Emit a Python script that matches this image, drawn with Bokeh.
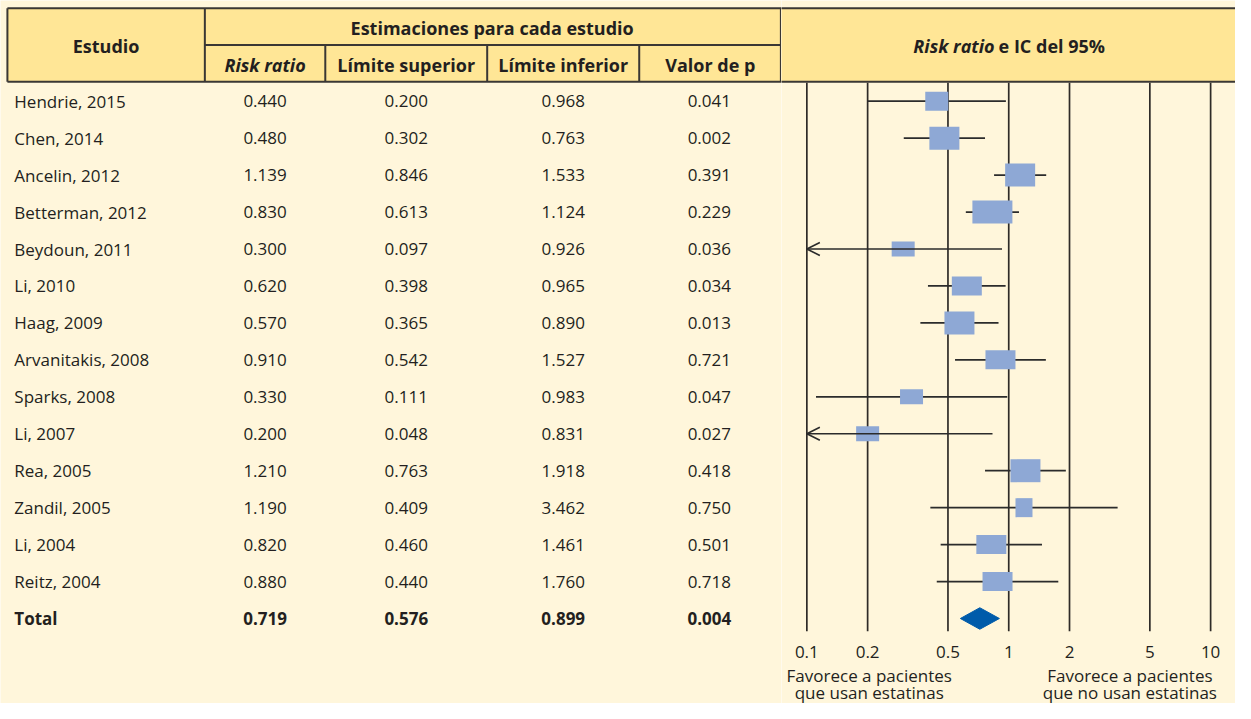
from bokeh.plotting import figure
from bokeh.layouts import row
from bokeh.models import Range1d, Arrow, OpenHead
from bokeh.core.properties import value
from bokeh.embed import file_html
from bokeh.resources import INLINE

# ---------------- data ----------------
estudios = ["Hendrie, 2015", "Chen, 2014", "Ancelin, 2012", "Betterman, 2012",
            "Beydoun, 2011", "Li, 2010", "Haag, 2009", "Arvanitakis, 2008",
            "Sparks, 2008", "Li, 2007", "Rea, 2005", "Zandil, 2005",
            "Li, 2004", "Reitz, 2004"]
risk_ratio = [0.440, 0.480, 1.139, 0.830, 0.300, 0.620, 0.570, 0.910,
              0.330, 0.200, 1.210, 1.190, 0.820, 0.880]
limite_superior = [0.200, 0.302, 0.846, 0.613, 0.097, 0.398, 0.365, 0.542,
                   0.111, 0.048, 0.763, 0.409, 0.460, 0.440]
limite_inferior = [0.968, 0.763, 1.533, 1.124, 0.926, 0.965, 0.890, 1.527,
                   0.983, 0.831, 1.918, 3.462, 1.461, 1.760]
valor_p = [0.041, 0.002, 0.391, 0.229, 0.036, 0.034, 0.013, 0.721,
           0.047, 0.027, 0.418, 0.750, 0.501, 0.718]
total_label = "Total"
total_rr = 0.719
total_sup = 0.576
total_inf = 0.899
total_p = 0.004
# study weights drawn as box sizes (px)
box_w = [23, 30, 30, 40, 23, 30, 30, 30, 23, 23, 30, 17, 30, 30]
box_h = [19, 23, 23, 23, 15, 19, 23, 19, 15, 15, 23, 19, 19, 19]
ticks = [0.1, 0.2, 0.5, 1, 2, 5, 10]
tick_labels = ["0.1", "0.2", "0.5", "1", "2", "5", "10"]

# ---------------- style / layout ----------------
BG = "#FFF6DB"
HEAD = "#FFE696"
BORDER = "#3A3734"
TXT = "#231F20"
BOX = "#8EA8D5"
DIAM = "#005BAA"
FONT = value("Open Sans")
REF_W, REF_H = 1251, 719          # design coordinates
W_TOT, H = 1235, 703              # canvas size
SX = W_TOT / REF_W
W1 = 781
W2 = W_TOT - W1
SPLIT = W1 / SX                   # design x where the two panels meet
ROW0, DY = 103.0, 37.79
n = len(estudios)
row_y = [ROW0 + DY * i for i in range(n + 1)]
y_total = row_y[n]


def fmt(v):
    return f"{v:.3f}"


def style(fig):
    fig.axis.visible = False
    fig.grid.visible = False
    fig.outline_line_color = None
    fig.background_fill_color = BG
    fig.border_fill_color = BG


# ---------------- table ----------------
t = figure(width=W1, height=H, x_range=Range1d(0, SPLIT), y_range=Range1d(REF_H, 0),
           output_backend="svg", toolbar_location=None, min_border=0)
style(t)

t.quad(left=7, right=SPLIT, top=8, bottom=83, fill_color=HEAD, line_color=None)
hx0 = [7, 7, 207]
hy = [8, 83, 45.6]
t.segment(x0=hx0, x1=[791] * 3, y0=hy, y1=hy, line_color=BORDER, line_width=2)
vx = [7, 207, 329, 493, 647, 790.5]
vy0 = [8, 8, 45.6, 45.6, 45.6, 8]
t.segment(x0=vx, x1=vx, y0=vy0, y1=[83] * len(vx), line_color=BORDER, line_width=2)

hdr = dict(text_font=FONT, text_font_size="18px", text_color=TXT,
           text_align="center", text_baseline="middle")
t.text(x=[107], y=[46.5], text=["Estudio"], text_font_style="bold", **hdr)
t.text(x=[498], y=[28], text=["Estimaciones para cada estudio"], text_font_style="bold", **hdr)
t.text(x=[268], y=[65.5], text=["Risk ratio"], text_font_style="bold italic", **hdr)
t.text(x=[411, 570, 719], y=[65.5] * 3,
       text=["Límite superior", "Límite inferior", "Valor de p"],
       text_font_style="bold", **hdr)

body = dict(text_font=FONT, text_font_size="17px", text_color=TXT, text_baseline="middle")
t.text(x=[14] * n, y=row_y[:n], text=estudios, text_align="left", **body)
col_x = [268, 411, 570, 718]
for cx, vals in zip(col_x, [risk_ratio, limite_superior, limite_inferior, valor_p]):
    t.text(x=[cx] * n, y=row_y[:n], text=[fmt(v) for v in vals], text_align="center", **body)
t.text(x=[14], y=[y_total], text=[total_label], text_align="left", text_font_style="bold", **body)
t.text(x=col_x, y=[y_total] * 4, text=[fmt(v) for v in [total_rr, total_sup, total_inf, total_p]],
       text_align="center", text_font_style="bold", **body)

# ---------------- forest ----------------
C1, DEC = 1021.3, 204.5  # design x of RR=1, design px per decade


def val(px):
    return 10 ** ((px - C1) / DEC)


f = figure(width=W2, height=H, x_axis_type="log",
           x_range=Range1d(val(SPLIT), val(REF_W)), y_range=Range1d(REF_H, 0),
           output_backend="svg", toolbar_location=None, min_border=0)
style(f)

f.quad(left=val(SPLIT - 2), right=val(1300), top=8, bottom=83, fill_color=HEAD, line_color=None)
f.segment(x0=[val(SPLIT - 2)] * 2, x1=[val(1300)] * 2, y0=[8, 83], y1=[8, 83],
          line_color=BORDER, line_width=2)
f.text(x=[val(1007)], y=[47], text=["Risk ratio"], text_font=FONT, text_font_size="18px",
       text_font_style="bold italic", text_color=TXT, text_align="right", text_baseline="middle")
f.text(x=[val(1011)], y=[47], text=["e IC del 95%"], text_font=FONT, text_font_size="18px",
       text_font_style="bold", text_color=TXT, text_align="left", text_baseline="middle")

# reference lines
f.segment(x0=ticks, x1=ticks, y0=[84] * len(ticks), y1=[645] * len(ticks),
          line_color="#2E2B28", line_width=1.7)

# confidence intervals
lo_min = ticks[0]
seg_x0, seg_x1, seg_y = [], [], []
for i in range(n):
    if limite_superior[i] < lo_min:
        f.add_layout(Arrow(end=OpenHead(size=13, line_color="#2B2B2B", line_width=1.6),
                           x_start=limite_inferior[i], x_end=lo_min,
                           y_start=row_y[i], y_end=row_y[i],
                           line_color="#2B2B2B", line_width=1.7))
    else:
        seg_x0.append(limite_superior[i])
        seg_x1.append(limite_inferior[i])
        seg_y.append(row_y[i])
f.segment(x0=seg_x0, x1=seg_x1, y0=seg_y, y1=seg_y, line_color="#2B2B2B", line_width=1.7)

# study boxes
f.rect(x=risk_ratio, y=row_y[:n], width=box_w, height=box_h,
       width_units="screen", height_units="screen", fill_color=BOX, line_color=None)

# pooled diamond
dh = 11
f.patch(x=[total_sup, total_rr, total_inf, total_rr],
        y=[y_total, y_total - dh, y_total, y_total + dh],
        fill_color=DIAM, line_color=DIAM)

# tick labels
f.text(x=ticks, y=[666] * len(ticks), text=tick_labels, text_font=FONT, text_font_size="17px",
       text_color=TXT, text_align="center", text_baseline="middle")

lab = dict(text_font=FONT, text_font_size="17px", text_color=TXT,
           text_align="center", text_baseline="middle")
f.text(x=[val(880), val(880)], y=[690, 707.5],
       text=["Favorece a pacientes", "que usan estatinas"], **lab)
f.text(x=[val(1144), val(1144)], y=[690, 707.5],
       text=["Favorece a pacientes", "que no usan estatinas"], **lab)

layout = row(t, f, spacing=0)
open("out.html", "w").write(file_html(layout, INLINE))
